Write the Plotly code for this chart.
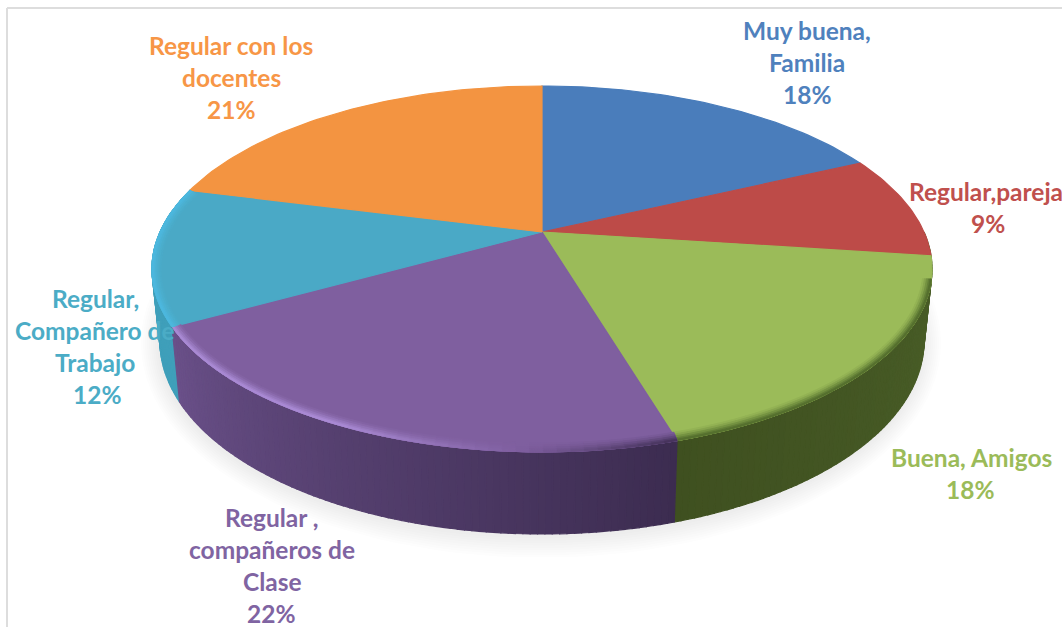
import math
import plotly.graph_objects as go

# ---- data ----
categories = ["Muy buena, Familia", "Regular,pareja", "Buena, Amigos",
              "Regular , compañeros de Clase", "Regular, Compañero de Trabajo",
              "Regular con los docentes"]
values = [18.0, 9.1, 18.3, 21.5, 12.1, 21.0]
label_lines = [["Muy buena,", "Familia"], ["Regular,pareja"], ["Buena, Amigos"],
               ["Regular ,", "compañeros de", "Clase"],
               ["Regular,", "Compañero de", "Trabajo"],
               ["Regular con los", "docentes"]]

# ---- styles ----
top_colors = ["#4a7dbb", "#bd4b48", "#9bbb59", "#7f5f9f", "#4aa9c6", "#f39441"]
text_colors = ["#4f81bd", "#c0504d", "#9bbb59", "#8064a2", "#4bacc6", "#f79646"]
# side colours: (start, end) along the sweep
side_colors = {1: ("#4a5f28", "#4a5f28"), 2: ("#4a5f28", "#3f5020"),
               3: ("#3c2c50", "#6a5089"), 4: ("#3f9fba", "#3f9fba")}
label_x = [807, 986, 971, 272, 95, 231]
label_first_y = [30, 191, 457, 517, 298, 45]
label_pct_x = [807, 988, 970, 271, 97, 231]
line_step = 32
label_size = 24.5

# ---- view (perspective of a flat disc) ----
CX, APEX_Y = 542, 232
K, D, C = 0.202, 175.5, 382
CT = (540, 268)
CB = (540, 340)
SX, SY = 382 / 390, 193 / 183


def rim(f):
    t = 2 * math.pi * f
    X, Y = math.sin(t), math.cos(t)
    den = 1 + K * Y
    return CX + C * X / den, APEX_Y - D * Y / den


def low(p):
    return CB[0] + SX * (p[0] - CT[0]), CB[1] + SY * (p[1] - CT[1])


def inset(p, px):
    return CT[0] + (p[0] - CT[0]) * (1 - px / 390), CT[1] + (p[1] - CT[1]) * (1 - px / 183)


def mix(a, b, u):
    ca = [int(a[i:i + 2], 16) for i in (1, 3, 5)]
    cb = [int(b[i:i + 2], 16) for i in (1, 3, 5)]
    return "#%02x%02x%02x" % tuple(round(x + (y - x) * u) for x, y in zip(ca, cb))


def poly(pts, color, line=1.2):
    xs = [p[0] for p in pts] + [pts[0][0]]
    ys = [p[1] for p in pts] + [pts[0][1]]
    fig.add_trace(go.Scatter(x=xs, y=ys, mode="lines", fill="toself", fillcolor=color,
                             line=dict(color=color, width=line),
                             hoverinfo="skip", showlegend=False))


fig = go.Figure()

# soft shadow below the disc
for i in range(9, 0, -1):
    pts = [(541 + (382 + 2.0 * i) * math.cos(a / 60 * math.pi),
            343 + (193 + 2.4 * i) * math.sin(a / 60 * math.pi)) for a in range(120)]
    poly(pts, "rgba(70,70,70,0.013)", line=0)

total = sum(values)
edges = [0]
for v in values:
    edges.append(edges[-1] + v / total)

# side wall, a strip per small step of the sweep
for idx in (4, 1, 2, 3):
    a, b = edges[idx], edges[idx + 1]
    if idx == 4:
        b = min(b, 0.77)
    if idx == 1:
        a = max(a, 0.25)
    n = max(2, int((b - a) * 400))
    for j in range(n):
        f0 = a + (b - a) * j / n
        f1 = a + (b - a) * (j + 1) / n
        p0, p1 = rim(f0), rim(f1)
        col = mix(side_colors[idx][0], side_colors[idx][1], (j + .5) / n)
        poly([p0, p1, low(p1), low(p0)], col)

# top faces
for idx in range(len(values)):
    a, b = edges[idx], edges[idx + 1]
    n = max(8, int((b - a) * 300))
    arc = [rim(a + (b - a) * j / n) for j in range(n + 1)]
    poly([(CX, APEX_Y)] + arc, top_colors[idx])


def edge_colour(idx, u):
    if idx == 2:
        return "#55702e"
    if idx == 3:
        if u < 0.25:
            return mix("#44325a", "#7f5f9f", u / 0.25)
        return mix("#7f5f9f", "#a98ad4", min(1, (u - 0.25) / 0.3))
    return "#4cb8de"


# soft bevel along the front rim of the top faces
bands = [(9, 0.12), (7, 0.3), (5, 0.55), (3, 0.8), (1.5, 1.0)]
for idx in (2, 3, 4):
    a, b = edges[idx], edges[idx + 1]
    if idx == 2:
        a = a + 0.02
    n = max(2, int((b - a) * 220))
    for w, strength in bands:
        for j in range(n):
            f0 = a + (b - a) * j / n
            f1 = a + (b - a) * (j + 1) / n
            u = (j + .5) / n
            col = mix(top_colors[idx], edge_colour(idx, u), strength)
            p0, p1 = rim(f0), rim(f1)
            poly([p0, p1, inset(p1, w), inset(p0, w)], col, line=0.8)

# labels, one annotation per line for the wide line spacing
annotations = []
for idx, lines in enumerate(label_lines):
    y = label_first_y[idx]
    for line in lines:
        annotations.append(dict(x=label_x[idx], y=y, text="<b>%s</b>" % line, showarrow=False,
                                font=dict(family="Lato", size=label_size, color=text_colors[idx]),
                                xanchor="center", yanchor="middle"))
        y += line_step
    annotations.append(dict(x=label_pct_x[idx], y=y, text="<b>%.0f%%</b>" % values[idx], showarrow=False,
                            font=dict(family="Lato", size=label_size, color=text_colors[idx]),
                            xanchor="center", yanchor="middle"))

fig.update_layout(
    width=1062, height=627, margin=dict(l=0, r=0, t=0, b=0, pad=0),
    paper_bgcolor="white", plot_bgcolor="white", showlegend=False,
    xaxis=dict(range=[0, 1062], visible=False, fixedrange=True),
    yaxis=dict(range=[627, 0], visible=False, fixedrange=True),
    annotations=annotations,
    shapes=[dict(type="line", x0=7, x1=1062, y0=8, y1=8, line=dict(color="#dddddd", width=2), layer="below"),
            dict(type="line", x0=7, x1=7, y0=8, y1=627, line=dict(color="#dddddd", width=2), layer="below")],
)
fig.write_html("out.html", config={"displayModeBar": False},
               post_script="document.body.style.margin='0';document.body.style.overflow='hidden';")
